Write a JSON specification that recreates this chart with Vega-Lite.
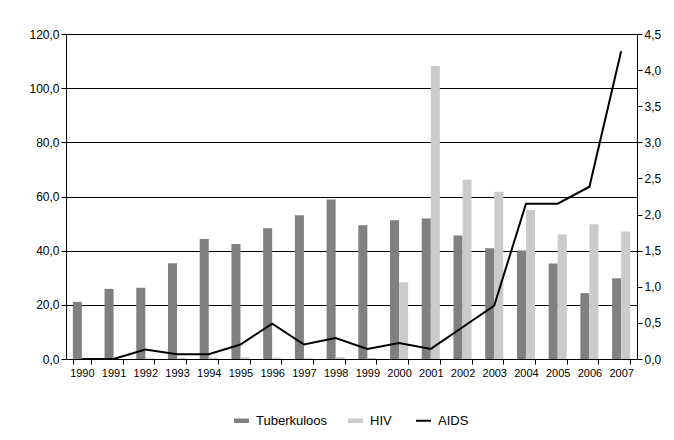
{
  "$schema": "https://vega.github.io/schema/vega-lite/v6.json",
  "width": 571,
  "height": 325,
  "autosize": "none",
  "padding": {"left": 66, "top": 34, "right": 37, "bottom": 81},
  "background": "white",
  "config": {
    "view": {"stroke": null},
    "font": "Liberation Sans",
    "axis": {"domainColor": "black", "tickColor": "black", "labelColor": "black", "gridColor": "black", "labelFont": "Liberation Sans", "domainWidth": 1, "tickWidth": 1, "gridWidth": 1},
    "legend": {"labelFont": "Liberation Sans", "labelColor": "black"}
  },
  "datasets": {
    "bars": [
      {"year": "1990", "series": "Tuberkuloos", "value": 21.1},
      {"year": "1991", "series": "Tuberkuloos", "value": 25.9},
      {"year": "1992", "series": "Tuberkuloos", "value": 26.3},
      {"year": "1993", "series": "Tuberkuloos", "value": 35.4},
      {"year": "1994", "series": "Tuberkuloos", "value": 44.3},
      {"year": "1995", "series": "Tuberkuloos", "value": 42.5},
      {"year": "1996", "series": "Tuberkuloos", "value": 48.3},
      {"year": "1997", "series": "Tuberkuloos", "value": 53.1},
      {"year": "1998", "series": "Tuberkuloos", "value": 58.9},
      {"year": "1999", "series": "Tuberkuloos", "value": 49.4},
      {"year": "2000", "series": "Tuberkuloos", "value": 51.2},
      {"year": "2001", "series": "Tuberkuloos", "value": 51.9},
      {"year": "2002", "series": "Tuberkuloos", "value": 45.6},
      {"year": "2003", "series": "Tuberkuloos", "value": 40.9},
      {"year": "2004", "series": "Tuberkuloos", "value": 40.1},
      {"year": "2005", "series": "Tuberkuloos", "value": 35.3},
      {"year": "2006", "series": "Tuberkuloos", "value": 24.3},
      {"year": "2007", "series": "Tuberkuloos", "value": 29.8},
      {"year": "1990", "series": "HIV", "value": 0.2},
      {"year": "1991", "series": "HIV", "value": 0.0},
      {"year": "1992", "series": "HIV", "value": 0.3},
      {"year": "1993", "series": "HIV", "value": 0.4},
      {"year": "1994", "series": "HIV", "value": 0.5},
      {"year": "1995", "series": "HIV", "value": 0.6},
      {"year": "1996", "series": "HIV", "value": 0.4},
      {"year": "1997", "series": "HIV", "value": 0.3},
      {"year": "1998", "series": "HIV", "value": 0.7},
      {"year": "1999", "series": "HIV", "value": 0.4},
      {"year": "2000", "series": "HIV", "value": 28.3},
      {"year": "2001", "series": "HIV", "value": 108.2},
      {"year": "2002", "series": "HIV", "value": 66.2},
      {"year": "2003", "series": "HIV", "value": 61.8},
      {"year": "2004", "series": "HIV", "value": 55.0},
      {"year": "2005", "series": "HIV", "value": 46.0},
      {"year": "2006", "series": "HIV", "value": 49.8},
      {"year": "2007", "series": "HIV", "value": 47.1}
    ],
    "aids": [
      {"year": "1990", "series": "AIDS", "value": 0},
      {"year": "1991", "series": "AIDS", "value": 0},
      {"year": "1992", "series": "AIDS", "value": 0.13},
      {"year": "1993", "series": "AIDS", "value": 0.065},
      {"year": "1994", "series": "AIDS", "value": 0.065},
      {"year": "1995", "series": "AIDS", "value": 0.2},
      {"year": "1996", "series": "AIDS", "value": 0.49},
      {"year": "1997", "series": "AIDS", "value": 0.2},
      {"year": "1998", "series": "AIDS", "value": 0.29},
      {"year": "1999", "series": "AIDS", "value": 0.14},
      {"year": "2000", "series": "AIDS", "value": 0.22},
      {"year": "2001", "series": "AIDS", "value": 0.14},
      {"year": "2002", "series": "AIDS", "value": 0.44},
      {"year": "2003", "series": "AIDS", "value": 0.74},
      {"year": "2004", "series": "AIDS", "value": 2.15},
      {"year": "2005", "series": "AIDS", "value": 2.15},
      {"year": "2006", "series": "AIDS", "value": 2.385},
      {"year": "2007", "series": "AIDS", "value": 4.26}
    ]
  },
  "layer": [
    {
      "data": {"name": "bars"},
      "mark": {"type": "bar"},
      "encoding": {
        "x": {
          "field": "year", "type": "ordinal",
          "scale": {"paddingInner": 0.43, "paddingOuter": 0.215},
          "axis": {"title": null, "labelAngle": 0, "tickBand": "extent", "labelFontSize": 11, "tickSize": 5, "labelPadding": 3}
        },
        "xOffset": {"field": "series", "sort": ["Tuberkuloos", "HIV"], "scale": {"paddingInner": 0, "paddingOuter": 0}},
        "y": {
          "field": "value", "type": "quantitative",
          "scale": {"domain": [0, 120], "nice": false},
          "axis": {"title": null, "values": [0, 20, 40, 60, 80, 100, 120], "labelExpr": "replace(format(datum.value, '.1f'), '.', ',')", "grid": true, "labelFontSize": 12, "tickSize": 5, "labelPadding": 2}
        },
        "color": {
          "field": "series", "type": "nominal",
          "scale": {"domain": ["Tuberkuloos", "HIV", "AIDS"], "range": ["#808080", "#cbcbcb", "#000000"]},
          "legend": {
            "orient": "none", "legendX": 169, "legendY": 380, "direction": "horizontal", "title": null,
            "labelFontSize": 13, "symbolSize": 225, "columnPadding": 20, "labelOffset": 8,
            "encode": {
              "symbols": {
                "update": {
                  "shape": {"signal": "datum.value === 'AIDS' ? 'M-1,0H1' : 'M-1,-0.3H1V0.3H-1Z'"},
                  "strokeWidth": {"signal": "datum.value === 'AIDS' ? 2 : 0"},
                  "stroke": {"value": "black"},
                  "fill": {"signal": "datum.value === 'AIDS' ? 'transparent' : scale('color', datum.value)"}
                }
              }
            }
          }
        }
      }
    },
    {
      "data": {"name": "aids"},
      "mark": {"type": "line", "strokeWidth": 2},
      "encoding": {
        "x": {"field": "year", "type": "ordinal"},
        "y": {
          "field": "value", "type": "quantitative",
          "scale": {"domain": [0, 4.5], "nice": false},
          "axis": {"orient": "right", "title": null, "values": [0, 0.5, 1, 1.5, 2, 2.5, 3, 3.5, 4, 4.5], "labelExpr": "replace(format(datum.value, '.1f'), '.', ',')", "grid": false, "labelFontSize": 12, "tickSize": 5, "labelPadding": 2}
        },
        "color": {"field": "series", "type": "nominal"}
      }
    }
  ],
  "resolve": {"scale": {"y": "independent"}}
}
